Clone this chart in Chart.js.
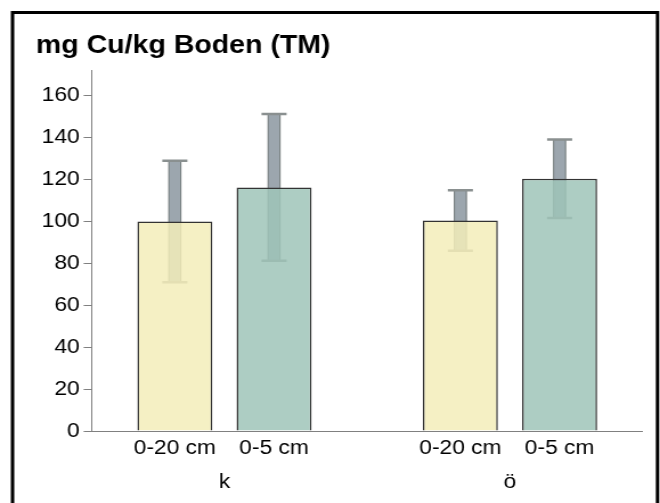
<!DOCTYPE html>
<html><head><meta charset="utf-8">
<script src="https://cdn.jsdelivr.net/npm/chart.js@4"></script>
<style>
html,body{margin:0;padding:0;background:#fff;overflow:hidden}
#wrap{width:579px;height:503px;position:relative;transform:scaleX(1.1399);transform-origin:0 0}
</style>
</head><body><div id="wrap"><canvas id="c"></canvas></div>
<script>
const titleText = 'mg Cu/kg Boden (TM)';
const categories = ['k', 'ö'];
const depthLabels = ['0-20 cm', '0-5 cm'];
const mean020 = [100.0, 100.5];
const sd020 = [29.0, 14.4];
const mean05 = [116.3, 120.4];
const sd05 = [35.0, 18.7];
const yTicks = [0, 20, 40, 60, 80, 100, 120, 140, 160];
const yMax = 172;

const FONT = '"Liberation Sans", Arial, sans-serif';
Chart.defaults.font.family = FONT;
Chart.defaults.color = '#000';

const sds = [sd020, sd05];
const means = [mean020, mean05];

// the category band is slightly wider than the drawn axis line in the original
const bandLayout = {
  id: 'bandLayout',
  afterLayout(chart) {
    const xs = chart.scales.x;
    xs._startPixel = 71.65;
    xs._length = 501;
    xs._endPixel = 71.65 + 501;
  }
};

const frame = {
  id: 'frame',
  afterDraw(chart) {
    const ctx = chart.ctx;
    ctx.save();
    ctx.strokeStyle = '#000';
    ctx.lineWidth = 3;
    ctx.strokeRect(11, 12.5, 565.8, 600);
    ctx.restore();
  }
};

const errorBars = {
  id: 'errorBars',
  beforeDatasetsDraw(chart) {
    const ctx = chart.ctx;
    const ys = chart.scales.y;
    ctx.save();
    chart.data.datasets.forEach((ds, d) => {
      const meta = chart.getDatasetMeta(d);
      meta.data.forEach((el, i) => {
        const m = means[d][i], s = sds[d][i];
        const yHi = ys.getPixelForValue(m + s);
        const yLo = ys.getPixelForValue(m - s);
        const x = el.x;
        ctx.fillStyle = '#9ca6ae';
        ctx.fillRect(x - 5.25, yHi, 10.5, yLo - yHi);
        ctx.strokeStyle = '#6f7777';
        ctx.lineWidth = 1;
        ctx.strokeRect(x - 5.25, yHi, 10.5, yLo - yHi);
        ctx.strokeStyle = '#8a9090';
        ctx.lineWidth = 2.5;
        ctx.beginPath();
        ctx.moveTo(x - 11, yHi); ctx.lineTo(x + 11, yHi);
        ctx.moveTo(x - 11, yLo); ctx.lineTo(x + 11, yLo);
        ctx.stroke();
      });
    });
    ctx.restore();
  },
  afterDraw(chart) {
    const ctx = chart.ctx;
    ctx.save();
    ctx.fillStyle = '#000';
    ctx.font = '20px ' + FONT;
    ctx.textAlign = 'center';
    ctx.textBaseline = 'middle';
    chart.data.datasets.forEach((ds, d) => {
      chart.getDatasetMeta(d).data.forEach(el => {
        ctx.fillText(depthLabels[d], el.x, 448);
      });
    });
    ctx.restore();
  }
};

new Chart(document.getElementById('c'), {
  type: 'bar',
  data: {
    labels: categories,
    datasets: [
      { label: depthLabels[0], data: mean020, backgroundColor: 'rgba(243,237,186,0.85)', borderColor: '#333', borderWidth: 1.5, borderSkipped: 'start' },
      { label: depthLabels[1], data: mean05, backgroundColor: 'rgba(159,196,184,0.85)', borderColor: '#333', borderWidth: 1.5, borderSkipped: 'start' }
    ]
  },
  options: {
    responsive: true,
    maintainAspectRatio: false,
    animation: false,
    devicePixelRatio: 1,
    categoryPercentage: 0.695,
    barPercentage: 0.756,
    layout: { padding: { left: 31.6, right: 16, top: 0, bottom: 0 } },
    plugins: {
      legend: { display: false },
      tooltip: { enabled: false },
      title: {
        display: true, text: titleText, align: 'start',
        font: { size: 25, weight: 'bold', family: FONT, lineHeight: 1.2 },
        color: '#000',
        padding: { top: 31.5, bottom: 9.2 }
      }
    },
    scales: {
      x: {
        grid: { display: false },
        border: { display: true, color: '#808080', width: 1 },
        ticks: { font: { size: 20 }, color: '#000', padding: 31 },
        afterFit(s) { s.height = 72; }
      },
      y: {
        min: 0, max: yMax,
        afterBuildTicks(s) { s.ticks = yTicks.map(v => ({ value: v })); },
        grid: { drawOnChartArea: false, drawTicks: true, tickLength: 7, color: '#808080' },
        border: { display: true, color: '#808080', width: 1 },
        ticks: { font: { size: 20 }, color: '#000', padding: 3.5 },
        afterFit(s) { s.width = 48.8; }
      }
    }
  },
  plugins: [bandLayout, errorBars, frame]
});
</script>
</body></html>
